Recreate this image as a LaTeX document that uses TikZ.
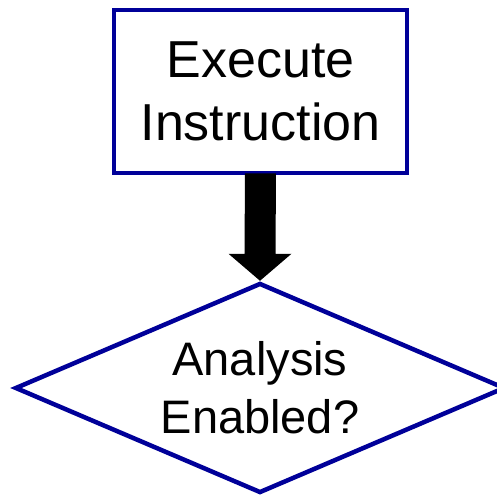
\documentclass[tikz,border=0pt]{standalone}
\usepackage{fontspec}
\setmainfont{Liberation Sans}
\usetikzlibrary{shapes.geometric,calc}
\definecolor{flowblue}{RGB}{0,0,153}
\begin{document}
\begin{tikzpicture}[x=1pt,y=-1pt,
  procbox/.style={draw=flowblue,line width=4.5pt,fill=white,rectangle,minimum width=293pt,minimum height=163pt,inner sep=0pt,align=center,font=\fontsize{52}{63}\selectfont},
  decbox/.style={draw=flowblue,line width=4.5pt,fill=white,diamond,aspect=2.3333,minimum width=490pt,minimum height=210pt,inner sep=0pt,align=center,font=\fontsize{47}{58}\selectfont},
  blockarrow/.style={fill=black,draw=none}]
\useasboundingbox (0,0) rectangle (496,498);
\node[procbox] (box) at (260.5,91.5) {Execute\\Instruction};
\node[decbox] (dec) at (260,388) {Analysis\\Enabled?};
\fill[blockarrow] ($(box.south)+(-15.5,-2)$) -- ($(box.south)+(15.5,-2)$)
  -- ($(dec.north)+(15.5,-27)$) -- ($(dec.north)+(31.5,-27)$)
  -- ($(dec.north)+(0,0)$)
  -- ($(dec.north)+(-31.5,-27)$) -- ($(dec.north)+(-15.5,-27)$) -- cycle;
\end{tikzpicture}
\end{document}
